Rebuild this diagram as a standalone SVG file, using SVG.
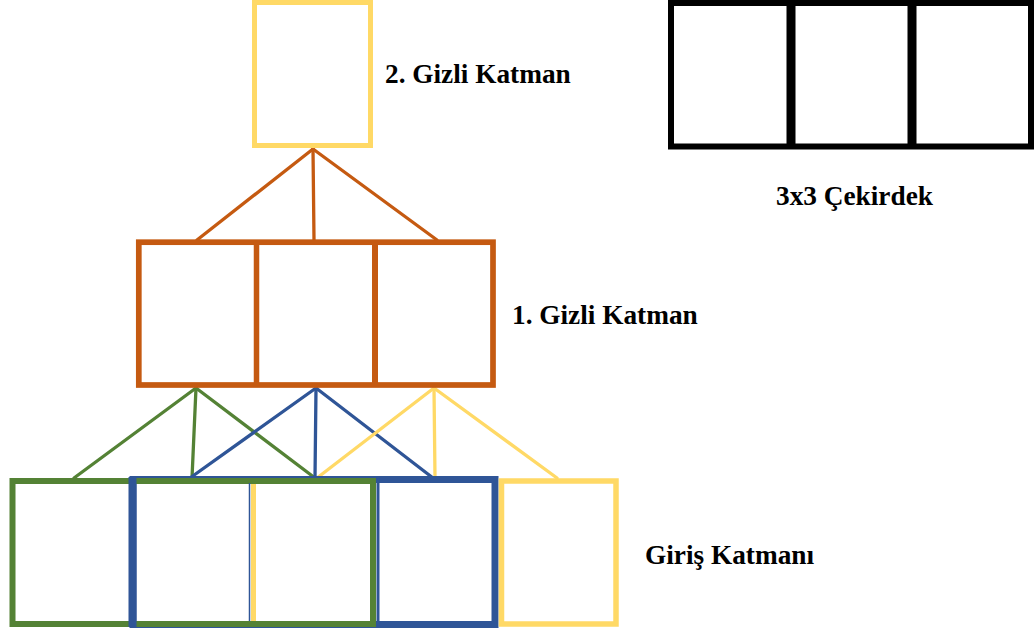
<svg xmlns="http://www.w3.org/2000/svg" width="1034" height="635" viewBox="0 0 1034 635">
<style>
text{font-family:'Liberation Serif','DejaVu Serif',serif;font-weight:bold;font-size:27.3px;fill:#000}
.cell{fill:none}
.or{stroke:#C55A11}
.gr{stroke:#548235}
.bl{stroke:#2F5597}
.ye{stroke:#FFD966}
.ln{stroke-width:3.3;fill:none;stroke-linecap:round}
</style>
<rect x="0" y="0" width="1034" height="635" fill="#fff"/>
<g id="connectors">
<line class="ln or" x1="313" y1="149" x2="197" y2="240"/>
<line class="ln or" x1="313" y1="149" x2="314" y2="240"/>
<line class="ln or" x1="313" y1="149" x2="437" y2="240"/>
<line class="ln gr" x1="196" y1="388" x2="74" y2="478"/>
<line class="ln gr" x1="196" y1="388" x2="192" y2="478"/>
<line class="ln gr" x1="196" y1="388" x2="315" y2="478"/>
<line class="ln bl" x1="316" y1="388" x2="190" y2="478"/>
<line class="ln bl" x1="316" y1="388" x2="315" y2="478"/>
<line class="ln bl" x1="316" y1="388" x2="433" y2="478"/>
<line class="ln ye" x1="434" y1="388" x2="317" y2="478"/>
<line class="ln ye" x1="434" y1="388" x2="435" y2="478"/>
<line class="ln ye" x1="434" y1="388" x2="557" y2="478"/>
</g>
<g id="hidden2">
<rect class="cell ye" x="254.5" y="2.5" width="116" height="143" stroke-width="5"/>
<text x="385" y="83" font-family="Liberation Serif, serif">2. Gizli Katman</text>
</g>
<g id="hidden1">
<rect class="cell or" x="138.8" y="242.2" width="354.2" height="142.8" stroke-width="5.7"/>
<line class="or" x1="256.5" y1="242" x2="256.5" y2="385" stroke-width="5.5"/>
<line class="or" x1="375" y1="242" x2="375" y2="385" stroke-width="6"/>
<text x="512" y="324" font-family="Liberation Serif, serif">1. Gizli Katman</text>
</g>
<g id="kernel">
<rect class="cell" x="671" y="3" width="360" height="143.5" stroke="#000" stroke-width="6"/>
<line x1="791" y1="3" x2="791" y2="146" stroke="#000" stroke-width="9"/>
<line x1="912" y1="3" x2="912" y2="146" stroke="#000" stroke-width="9"/>
<text x="776" y="205" font-family="Liberation Serif, serif">3x3 Çekirdek</text>
</g>
<g id="input">
<rect class="cell bl" x="133" y="479.5" width="362" height="145" stroke-width="7"/>
<rect class="cell gr" x="12.5" y="481" width="360.5" height="143" stroke-width="6"/>
<line class="bl" x1="132.5" y1="477" x2="132.5" y2="627" stroke-width="8"/>
<line class="bl" x1="249.5" y1="483" x2="249.5" y2="621" stroke-width="1.5"/>
<line class="ye" x1="253.5" y1="484" x2="253.5" y2="621" stroke-width="5"/>
<line class="bl" x1="378" y1="477" x2="378" y2="627" stroke-width="3"/>
<rect class="cell ye" x="501.5" y="481" width="114.5" height="143" stroke-width="5.5"/>
<text x="645" y="564" font-family="Liberation Serif, serif">Giriş Katmanı</text>
</g>
</svg>
